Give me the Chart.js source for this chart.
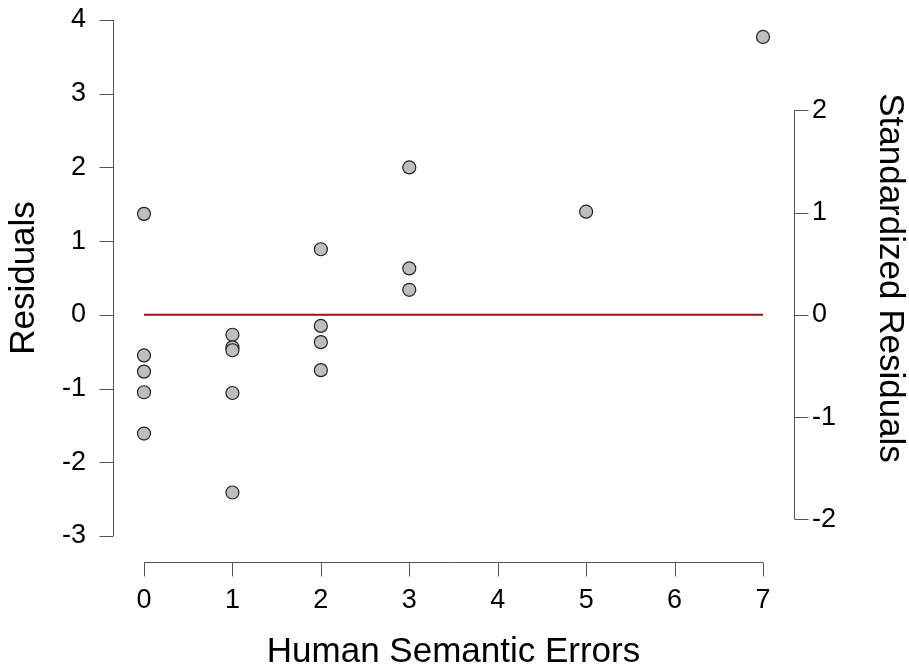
<!DOCTYPE html>
<html>
<head>
<meta charset="utf-8">
<script src="https://cdn.jsdelivr.net/npm/chart.js@4/dist/chart.umd.min.js"></script>
<style>
  html, body { margin: 0; padding: 0; background: #fff; }
  #wrap { width: 909px; height: 670px; position: relative; }
</style>
</head>
<body>
<div id="wrap"><canvas id="chart1"></canvas></div>
<script>
'use strict';
// values
var semanticErrors = [0, 0, 0, 0, 0, 1, 1, 1, 1, 1, 2, 2, 2, 2, 3, 3, 3, 5, 7];
var residuals = [1.37, -0.55, -0.77, -1.05, -1.61, -0.27, -0.44, -0.48, -1.06, -2.41, 0.89, -0.15, -0.37, -0.75, 2.00, 0.63, 0.34, 1.40, 3.77];
var xTicks = [0, 1, 2, 3, 4, 5, 6, 7];
var yTicks = [-3, -2, -1, 0, 1, 2, 3, 4];
var stdTicks = [-2, -1, 0, 1, 2];
var residualSD = 1.387;

var fontFamily = '"Liberation Sans", Arial, Helvetica, sans-serif';

var points = semanticErrors.map(function (v, i) {
	return { x: v, y: residuals[i] };
});
var zeroLine = [
	{ x: xTicks[0], y: 0 },
	{ x: xTicks[xTicks.length - 1], y: 0 }
];

function setTicks(list) {
	return function (scale) {
		scale.ticks = list.map(function (v) { return { value: v }; });
	};
}

// fixed box sizes; the big tick padding must not push the plot area down
function fixWidth(w) {
	return function (scale) {
		scale.width = w;
		scale.paddingTop = 14;
		scale.paddingBottom = 14;
	};
}

// R style axes: offset from the plot region, ticks pointing outward
var rAxes = {
	id: 'rAxes',
	afterDraw: function (chart) {
		var ctx = chart.ctx;
		var area = chart.chartArea;
		var sx = chart.scales.x, sy = chart.scales.y, sy2 = chart.scales.y2;
		var tick = 14;
		ctx.save();
		ctx.strokeStyle = '#555';
		ctx.lineWidth = 1;
		ctx.beginPath();

		var by = Math.round(area.bottom + 26) + 0.5;
		ctx.moveTo(sx.getPixelForValue(xTicks[0]), by);
		ctx.lineTo(sx.getPixelForValue(xTicks[xTicks.length - 1]), by);
		xTicks.forEach(function (v) {
			var px = Math.round(sx.getPixelForValue(v)) + 0.5;
			ctx.moveTo(px, by);
			ctx.lineTo(px, by + tick);
		});

		var lx = Math.round(area.left - 31) + 0.5;
		ctx.moveTo(lx, sy.getPixelForValue(yTicks[0]));
		ctx.lineTo(lx, sy.getPixelForValue(yTicks[yTicks.length - 1]));
		yTicks.forEach(function (v) {
			var py = Math.round(sy.getPixelForValue(v)) + 0.5;
			ctx.moveTo(lx, py);
			ctx.lineTo(lx - tick, py);
		});

		var rx = Math.round(area.right + 31) + 0.5;
		ctx.moveTo(rx, sy2.getPixelForValue(stdTicks[0]));
		ctx.lineTo(rx, sy2.getPixelForValue(stdTicks[stdTicks.length - 1]));
		stdTicks.forEach(function (v) {
			var py = Math.round(sy2.getPixelForValue(v)) + 0.5;
			ctx.moveTo(rx, py);
			ctx.lineTo(rx + tick, py);
		});

		ctx.stroke();
		ctx.restore();
	}
};

var tickFont = { family: fontFamily, size: 27 };
var titleFont = { family: fontFamily, size: 35, lineHeight: 1 };
var noGrid = { display: false, drawTicks: false };

var ctx = document.getElementById('chart1');
var myChart = new Chart(ctx, {
	type: 'scatter',
	data: {
		datasets: [{
			label: 'zero',
			data: zeroLine,
			showLine: true,
			borderColor: '#9e1212',
			borderWidth: 2,
			pointRadius: 0,
			clip: false
		}, {
			label: 'Residuals',
			data: points,
			backgroundColor: '#bebebe',
			borderColor: '#222',
			borderWidth: 1.2,
			pointRadius: 6.5,
			pointHoverRadius: 6.5,
			clip: false
		}]
	},
	plugins: [rAxes],
	options: {
		responsive: true,
		maintainAspectRatio: false,
		animation: false,
		layout: { padding: { top: 20, left: 0, right: 0, bottom: 0 } },
		plugins: {
			legend: { display: false },
			tooltip: { enabled: false }
		},
		scales: {
			x: {
				type: 'linear',
				min: 0,
				max: 7,
				afterBuildTicks: setTicks(xTicks),
				afterFit: function (scale) { scale.height = 134; },
				grid: noGrid,
				border: { display: false },
				ticks: { color: '#000', font: tickFont, padding: 48 },
				title: {
					display: true,
					text: 'Human Semantic Errors',
					color: '#000',
					font: titleFont,
					padding: { top: 0, bottom: 0 }
				}
			},
			y: {
				type: 'linear',
				position: 'left',
				min: -3,
				max: 4,
				afterBuildTicks: setTicks(yTicks),
				afterFit: fixWidth(144),
				grid: noGrid,
				border: { display: false },
				ticks: { color: '#000', font: tickFont, padding: 58 },
				title: {
					display: true,
					text: 'Residuals',
					color: '#000',
					font: titleFont,
					padding: { top: 7, bottom: 0 }
				}
			},
			y2: {
				type: 'linear',
				position: 'right',
				min: -3 / residualSD,
				max: 4 / residualSD,
				afterBuildTicks: setTicks(stdTicks),
				afterFit: fixWidth(146),
				grid: noGrid,
				border: { display: false },
				ticks: { color: '#000', font: tickFont, padding: 49 },
				title: {
					display: true,
					text: 'Standardized Residuals',
					color: '#000',
					font: titleFont,
					padding: { top: 2, bottom: 0 }
				}
			}
		}
	}
});
</script>
</body>
</html>
